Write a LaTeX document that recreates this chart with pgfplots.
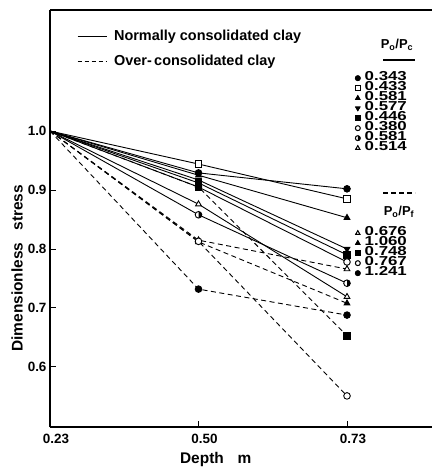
\documentclass[border=0pt]{standalone}
\usepackage{pgfplots}
\pgfplotsset{compat=1.18}
\usepackage{fontspec}
\setmainfont{Liberation Sans}
\newfontfamily\widesans{Liberation Sans}[FakeStretch=1.3]
\pgfdeclareplotmark{halfcirc}{%
  \pgfpathcircle{\pgfpointorigin}{\pgfplotmarksize}%
  \pgfsetfillcolor{white}\pgfusepathqfillstroke
  \pgfpathmoveto{\pgfqpoint{0pt}{\pgfplotmarksize}}%
  \pgfpatharc{90}{-90}{\pgfplotmarksize}%
  \pgfpathclose
  \pgfsetfillcolor{black}\pgfusepathqfill
}
\newcommand{\lf}{\fontsize{13}{13}\selectfont\widesans\bfseries}
\newcommand{\hf}{\fontsize{13}{13}\selectfont\bfseries}
\newcommand{\bfx}{\fontsize{14.5}{15}\selectfont\bfseries}
\newcommand{\labf}{\fontsize{15.5}{16}\selectfont\bfseries}
\begin{document}
\begin{tikzpicture}
\path[use as bounding box] (-50bp,-42bp) rectangle (382bp,427bp);
\begin{axis}[
  at={(0bp,0bp)}, anchor=south west,
  width=382bp, height=417bp, scale only axis,
  xmin=0, xmax=2.5724, ymin=0.4983, ymax=1.2051,
  axis x line=box, axis y line=left,
  axis line style={-, line width=1.3bp, black},
  xtick={0,1,2}, xticklabels={0.23,0.50,0.73}, xtick pos=left,
  ytick={0.6,0.7,0.8,0.9,1.0}, yticklabels={0.6,0.7,0.8,0.9,1.0}, ytick pos=left,
  tick align=inside, major tick length=6bp, tick style={line width=1bp, black},
  ticklabel style={font=\fontsize{13.5}{14}\selectfont\bfseries},
  xticklabel style={xshift=6bp, yshift=-4bp},
  label style={font=\labf, inner sep=0pt},
  xlabel={\labf Depth\hspace{0.9em}m},
  xlabel style={at={(axis description cs:0.340,-0.079)}, anchor=west},
  ylabel={\labf Dimensionless\hspace{0.8em}stress},
  ylabel style={at={(axis description cs:-0.086,0.18)}, rotate=0, anchor=west},
  every axis plot/.append style={line width=0.9bp, black, mark size=3.3bp, mark indices={2,3}},
  legend image code/.code={\draw[#1,only marks,mark size=2.4bp] plot coordinates {(0bp,0bp) (0bp,0bp) (0bp,0bp)};},
  legend style={at={(axis description cs:0.799,0.849)}, anchor=north west, draw=none, fill=none,
    inner sep=0pt, row sep=0pt, column sep=4.5bp,
    font=\lf,
    nodes={font=\lf, inner sep=0pt, text height=7.5bp, text depth=2.5bp}},
  legend cell align=left,
]
% Normally consolidated clay (solid)
\addplot[solid, mark=*, mark options={fill=black}] coordinates {(0,1.0) (1,0.929) (2,0.902)};
\addlegendentry{\lf 0.343}
\addplot[solid, mark=square*, mark options={fill=white}] coordinates {(0,1.0) (1,0.944) (2,0.885)};
\addlegendentry{\lf 0.433}
\addplot[solid, mark=triangle*, mark options={fill=black}] coordinates {(0,1.0) (1,0.925) (2,0.853)};
\addlegendentry{\lf 0.581}
\addplot[solid, mark=triangle*, mark options={fill=black, rotate=180}] coordinates {(0,1.0) (1,0.917) (2,0.800)};
\addlegendentry{\lf 0.577}
\addplot[solid, mark=square*, mark options={fill=black}] coordinates {(0,1.0) (1,0.912) (2,0.790)};
\addlegendentry{\lf 0.446}
\addplot[solid, mark=*, mark options={fill=white}] coordinates {(0,1.0) (1,0.905) (2,0.778)};
\addlegendentry{\lf 0.380}
\addplot[solid, mark=halfcirc] coordinates {(0,1.0) (1,0.858) (2,0.742)};
\addlegendentry{\lf 0.581}
\addplot[solid, mark=triangle*, mark options={fill=white}] coordinates {(0,1.0) (1,0.876) (2,0.719)};
\addlegendentry{\lf 0.514}
% spacers
\addlegendimage{empty legend}\addlegendentry{\strut}
\addlegendimage{empty legend}\addlegendentry{\strut}
\addlegendimage{empty legend}\addlegendentry{\strut}
\addlegendimage{empty legend}\addlegendentry{\strut}
\addlegendimage{empty legend}\addlegendentry{\strut}
\addlegendimage{empty legend}\addlegendentry{\strut}
\addlegendimage{empty legend}\addlegendentry{\strut}
\addlegendimage{empty legend}\addlegendentry[text height=2.5bp, text depth=2.5bp]{}
% Over-consolidated clay (dashed)
\addplot[dash pattern=on 5bp off 3.5bp, mark=triangle*, mark options={solid, fill=white}] coordinates {(0,1.0) (1,0.815) (2,0.766)};
\addlegendentry{\lf 0.676}
\addplot[dash pattern=on 5bp off 3.5bp, mark=triangle*, mark options={solid, fill=black}] coordinates {(0,1.0) (1,0.812) (2,0.708)};
\addlegendentry{\lf 1.060}
\addplot[dash pattern=on 5bp off 3.5bp, mark=square*, mark options={solid, fill=black}] coordinates {(0,1.0) (1,0.905) (2,0.653)};
\addlegendentry{\lf 0.748}
\addplot[dash pattern=on 5bp off 3.5bp, mark=*, mark options={solid, fill=white}] coordinates {(0,1.0) (1,0.813) (2,0.551)};
\addlegendentry{\lf 0.767}
\addplot[dash pattern=on 5bp off 3.5bp, mark=*, mark options={solid, fill=black}] coordinates {(0,1.0) (1,0.732) (2,0.688)};
\addlegendentry{\lf 1.241}
\end{axis}
% line-style legend in an overlaid axis
\begin{axis}[
  at={(0bp,0bp)}, anchor=south west,
  width=382bp, height=417bp, scale only axis,
  xmin=0, xmax=1, ymin=0, ymax=1, hide axis,
  legend image code/.code={\draw[#1, line width=0.9bp] (0bp,0bp) -- (29bp,0bp);},
  legend style={at={(axis description cs:0.0707,0.9527)}, anchor=north west, draw=none, fill=none,
    inner sep=0pt, row sep=11.5bp, column sep=7bp,
    font=\bfx,
    nodes={font=\bfx, inner sep=0pt, text height=10.5bp, text depth=3bp}},
  legend cell align=left,
]
\addlegendimage{black, solid}
\addlegendentry{Normally consolidated clay}
\addlegendimage{black, dash pattern=on 4bp off 3bp}
\addlegendentry{Over-\,consolidated clay}
\end{axis}
% headers of the marker key
\node[font=\hf] at (347bp,382bp) {P\textsubscript{o}/P\textsubscript{c}};
\draw[line width=1.2bp] (333bp,367bp) -- (365bp,367bp);
\draw[line width=1.2bp, dash pattern=on 5bp off 3bp] (333bp,234bp) -- (365bp,234bp);
\node[font=\hf] at (349bp,215bp) {P\textsubscript{o}/P\textsubscript{f}};
\end{tikzpicture}
\end{document}
